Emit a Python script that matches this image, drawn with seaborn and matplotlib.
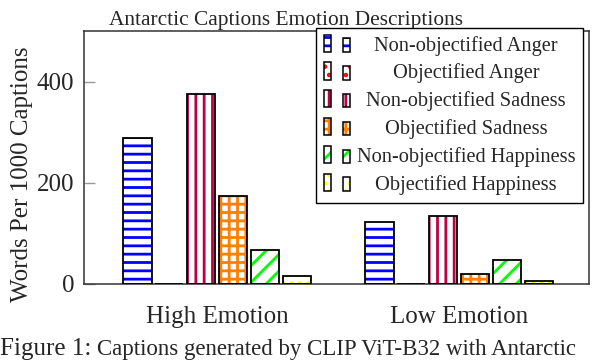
import numpy as np
import pandas as pd
import matplotlib
matplotlib.use("Agg")
import matplotlib.pyplot as plt
import seaborn as sns
from matplotlib.patches import Rectangle
from matplotlib.legend_handler import HandlerBase

# ---- data ----
levels = ["High Emotion", "Low Emotion"]
series = ["Non-objectified Anger", "Objectified Anger", "Non-objectified Sadness",
          "Objectified Sadness", "Non-objectified Happiness", "Objectified Happiness"]
high_vals = [288, 0, 375, 174, 67, 16]
low_vals = [123, 0, 135, 19, 47, 6]
yticks = [0, 200, 400]

hatch_colors = ["#0000FF", "#FF0000", "#BF0040", "#FF8000", "#00FF00", "#FFFF00"]
hatches = ["--", "..", "||", "++", "//", ".."]

sns.set_theme(style="white")
plt.rcParams["font.family"] = ["Liberation Serif", "DejaVu Serif"]
plt.rcParams["hatch.linewidth"] = 2.0

rows = []
for s, h, l in zip(series, high_vals, low_vals):
    rows.append({"level": levels[0], "series": s, "value": h})
    rows.append({"level": levels[1], "series": s, "value": l})
df = pd.DataFrame(rows)

fig = plt.figure(figsize=(6.02, 3.62), dpi=100)
ax = fig.add_axes([84 / 602, 1 - 284 / 362, (589 - 84) / 602, (284 - 31) / 362])

sns.barplot(data=df, x="level", y="value", hue="series", order=levels,
            hue_order=series, width=0.79, gap=0.11, errorbar=None, ax=ax,
            legend=False)

for cont, hc, ht in zip(ax.containers, hatch_colors, hatches):
    for p in cont.patches:
        p.set_facecolor("white")
        p.set_edgecolor(hc)
        p.set_hatch(ht)
        p.set_linewidth(0)
        ax.add_patch(Rectangle((p.get_x(), p.get_y()), p.get_width(), p.get_height(),
                               fill=False, edgecolor="black", linewidth=1.3, zorder=3))

ax.set_xlim(-0.55, 1.537)
ax.set_ylim(0, 500)
ax.set_yticks(yticks)
ax.set_yticklabels([str(v) for v in yticks])
ax.set_xlabel("")
ax.set_ylabel("Words Per 1000 Captions", fontsize=18)
ax.yaxis.set_label_coords(-0.101, 0.435)
ax.set_title("Antarctic Captions Emotion Descriptions", fontsize=15.4, pad=4, x=0.4)
ax.tick_params(axis="y", direction="in", length=8, width=1, color="#999999",
               labelsize=18, pad=7, left=True)
ax.tick_params(axis="x", length=0, labelsize=18, pad=16)
for sp in ax.spines.values():
    sp.set_color("#333333")
    sp.set_linewidth(1.1)


class TwoBars(HandlerBase):
    def __init__(self, hatch, color):
        super().__init__()
        self.hatch = hatch
        self.color = color

    def create_artists(self, legend, orig_handle, xdescent, ydescent, width, height,
                       fontsize, trans):
        arts = []
        bw = width * 0.28
        for x0, hs in [(0.0, 1.25), (width * 0.72, 1.0)]:
            h = height * hs
            r1 = Rectangle((x0 - xdescent, -ydescent - 1), bw, h, facecolor="white",
                           edgecolor=self.color, hatch=self.hatch, linewidth=0,
                           transform=trans)
            r2 = Rectangle((x0 - xdescent, -ydescent - 1), bw, h, fill=False,
                           edgecolor="black", linewidth=1.1, transform=trans)
            arts += [r1, r2]
        return arts


handles = [Rectangle((0, 0), 1, 1) for _ in series]
hmap = {h: TwoBars(ht, hc) for h, ht, hc in zip(handles, hatches, hatch_colors)}
leg = ax.legend(handles, series, handler_map=hmap, loc="upper right",
                bbox_to_anchor=(0.988, 1.012), borderaxespad=0, fontsize=14.7,
                frameon=True, fancybox=False, edgecolor="black", framealpha=1,
                handlelength=1.3, handleheight=0.65, handletextpad=0.3,
                labelspacing=0.39, borderpad=0.38)
leg.get_frame().set_linewidth(1.0)
leg.set_zorder(5)

# center legend labels in their column
fig.canvas.draw()
renderer = fig.canvas.get_renderer()
items = leg._legend_handle_box.get_children()[0].get_children()
widths = [t.get_window_extent(renderer).width for t in leg.texts]
maxw = max(widths)
base = leg.handletextpad * leg._fontsize
for item, w in zip(items, widths):
    item.sep = base + (maxw - w) / 2 * 72 / fig.dpi

fig.text(0.0, 0.005, "Figure 1:", fontsize=18, va="bottom", ha="left")
fig.text(97 / 602, 0.005, "Captions generated by CLIP ViT-B32 with Antarctic",
         fontsize=16.5, va="bottom", ha="left")

fig.savefig("out.png", dpi=100)
